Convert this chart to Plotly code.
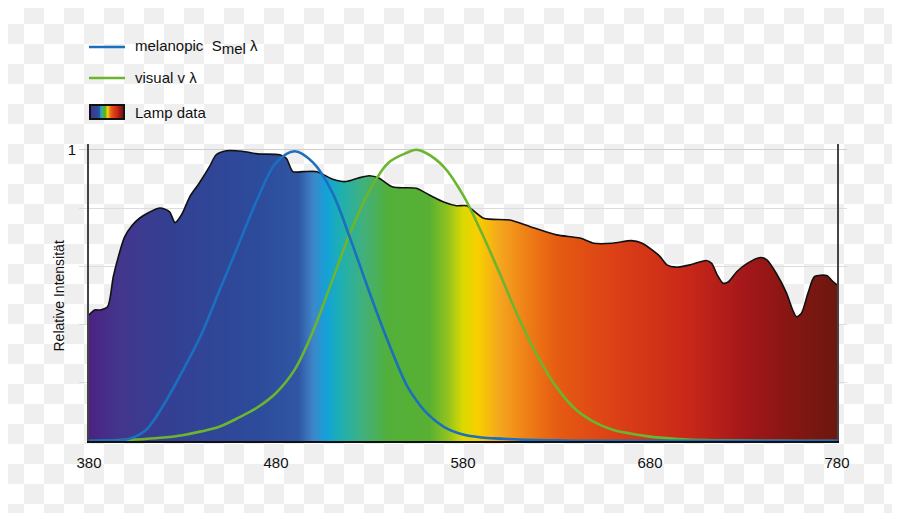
import base64
import plotly.graph_objects as go

# --- data ---
lamp_nm = [380, 383, 386, 390, 393, 396, 399, 403, 407, 412, 418, 423, 426, 429.5,
           434, 439, 444.5, 448, 453.5, 462, 470, 482, 485.5, 489, 494.5, 502,
           510, 517.5, 524, 530, 535, 542.5, 555, 562, 570, 576.5, 582, 591,
           605, 616, 630, 642.5, 650, 660, 670, 675.5, 685, 689, 694, 701.5,
           710, 713, 716, 719, 722, 726.5, 732, 739, 742.5, 747.5, 753, 756.3,
           758.4, 761, 764.5, 768, 774.5, 777, 780]
lamp_val = [0.433, 0.45, 0.45, 0.462, 0.565, 0.64, 0.70, 0.74, 0.765, 0.785, 0.80,
            0.788, 0.75, 0.777, 0.84, 0.886, 0.943, 0.983, 0.997, 0.995, 0.986,
            0.983, 0.971, 0.925, 0.925, 0.925, 0.900, 0.891, 0.903, 0.911, 0.903,
            0.872, 0.868, 0.845, 0.82, 0.808, 0.808, 0.765, 0.759, 0.736, 0.708,
            0.697, 0.679, 0.679, 0.688, 0.68, 0.636, 0.605, 0.597, 0.605, 0.62,
            0.61, 0.57, 0.542, 0.547, 0.582, 0.61, 0.63, 0.622, 0.576, 0.508,
            0.45, 0.427, 0.439, 0.508, 0.565, 0.568, 0.553, 0.536]

curve_nm = [380, 390, 400, 410, 420, 430, 440, 450, 460, 470, 480, 490, 500,
            510, 520, 530, 540, 550, 555, 560, 570, 580, 590, 600, 610, 620,
            630, 640, 650, 660, 670, 680, 690, 700, 710, 720, 740, 760, 780]
melanopic = [0.0, 0.002, 0.005, 0.035, 0.125, 0.24, 0.365, 0.52, 0.675, 0.83,
             0.955, 0.995, 0.955, 0.855, 0.69, 0.51, 0.34, 0.19, 0.14, 0.10,
             0.048, 0.022, 0.012, 0.008, 0.005, 0.003, 0.002, 0.001, 0.001,
             0.001, 0.001, 0.001, 0.001, 0.001, 0.001, 0.001, 0.001, 0.001, 0.001]
visual = [0.0, 0.001, 0.004, 0.007, 0.012, 0.02, 0.033, 0.05, 0.08, 0.115,
          0.165, 0.245, 0.38, 0.55, 0.72, 0.86, 0.955, 0.99, 1.0, 0.99, 0.94,
          0.845, 0.715, 0.57, 0.42, 0.29, 0.185, 0.11, 0.066, 0.039, 0.025,
          0.015, 0.009, 0.005, 0.003, 0.002, 0.001, 0.0, 0.0]

x_ticks = [380, 480, 580, 680, 780]
y_label_ticks = [1.0]
y_grid_ticks = [0.2, 0.4, 0.6, 0.8]

MEL_COLOR = "#1a70bf"
VIS_COLOR = "#6cb52f"

# spectrum colours along the wavelength axis
spec_nm = [380, 395, 420, 470, 492, 500, 507, 515, 527, 540, 562, 572, 580,
           588, 600, 615, 630, 660, 700, 730, 755, 780]
spec_col = ["#4a2284", "#44358c", "#343f92", "#2d4b9b", "#3056a3", "#3f86c8",
            "#12a2d8", "#1fb0b0", "#42b07a", "#52b03a", "#58b033", "#92c31f",
            "#dcd900", "#f8cf00", "#f4a51f", "#ee7d16", "#e65c12", "#dc4116",
            "#c92819", "#a5171a", "#861612", "#6c1810"]
spectrum = [[(n - 380) / 400, c] for n, c in zip(spec_nm, spec_col)]


def svg_uri(svg):
    return "data:image/svg+xml;base64," + base64.b64encode(svg.encode()).decode()


# the page draws the figure 8px in from the top-left corner
OFF = 8

# checkerboard background (transparent-image look), aligned to the page
checker = svg_uri(
    '<svg xmlns="http://www.w3.org/2000/svg" width="900" height="521">'
    f'<defs><pattern id="c" x="{-OFF}" y="{-OFF}" width="40" height="40" '
    'patternUnits="userSpaceOnUse">'
    '<rect width="40" height="40" fill="#ffffff"/>'
    '<rect x="20" width="20" height="20" fill="#efefef"/>'
    '<rect y="20" width="20" height="20" fill="#efefef"/>'
    '</pattern></defs><rect width="900" height="521" fill="url(#c)"/></svg>')

# legend swatch for the lamp spectrum
stops = "".join(f'<stop offset="{p:.3f}" stop-color="{c}"/>' for p, c in spectrum)
swatch = svg_uri(
    '<svg xmlns="http://www.w3.org/2000/svg" width="36" height="16">'
    f'<defs><linearGradient id="g">{stops}</linearGradient></defs>'
    '<rect x="1" y="1" width="34" height="14" fill="url(#g)" '
    'stroke="#111" stroke-width="2"/></svg>')

L, T = 89 - OFF, 144 - OFF
R, B = 900 - (837 - OFF), 521 - (441 - OFF)
W, H = 900 - L - R, 521 - T - B


def px(x):  # page pixel -> paper x
    return (x - 89) / W


def py(y):  # page pixel -> paper y
    return (441 - y) / H


fig = go.Figure()

fig.add_trace(go.Scatter(
    x=lamp_nm, y=lamp_val,
    mode="lines", name="Lamp data",
    line=dict(color="#111111", width=1.6, shape="spline", smoothing=0.7),
    fill="tozeroy",
    fillgradient=dict(type="horizontal", colorscale=spectrum),
))
fig.add_trace(go.Scatter(
    x=curve_nm, y=visual,
    mode="lines", name="visual v λ",
    line=dict(color=VIS_COLOR, width=2.6, shape="spline"),
))
fig.add_trace(go.Scatter(
    x=curve_nm, y=melanopic,
    mode="lines", name="melanopic S mel λ",
    line=dict(color=MEL_COLOR, width=2.6, shape="spline"),
))

# hand-made legend
legend_shapes = [
    dict(type="line", xref="paper", yref="paper", x0=px(89), x1=px(125),
         y0=py(47), y1=py(47), line=dict(color=MEL_COLOR, width=2.6)),
    dict(type="line", xref="paper", yref="paper", x0=px(89), x1=px(125),
         y0=py(78), y1=py(78), line=dict(color=VIS_COLOR, width=2.6)),
]
legend_texts = [
    ("melanopic  S<sub><span style='font-size:15px'>mel</span></sub> λ", 47),
    ("visual v λ", 78),
    ("Lamp data", 112),
]
annotations = [
    dict(text=t, xref="paper", yref="paper", x=px(133), y=py(y),
         xanchor="left", yanchor="middle", showarrow=False,
         font=dict(size=15, color="#111111"))
    for t, y in legend_texts
]
annotations.append(dict(
    text="Relative Intensität", xref="paper", yref="paper",
    x=px(58), y=py(296.5), textangle=-90, showarrow=False,
    xanchor="center", yanchor="middle", font=dict(size=14, color="#111111"),
))

fig.update_layout(
    width=900, height=521,
    margin=dict(l=L, r=R, t=T, b=B, autoexpand=False),
    paper_bgcolor="rgba(0,0,0,0)",
    plot_bgcolor="rgba(0,0,0,0)",
    font=dict(family="Liberation Sans, Arial, sans-serif", size=15, color="#111111"),
    showlegend=False,
    shapes=legend_shapes,
    annotations=annotations,
    images=[
        dict(source=checker, xref="paper", yref="paper",
             x=px(0) - OFF / W, y=py(0) + OFF / H, sizex=900 / W, sizey=521 / H,
             sizing="stretch", layer="below"),
        dict(source=swatch, xref="paper", yref="paper",
             x=px(89), y=py(104), sizex=36 / W, sizey=16 / H,
             sizing="stretch", layer="above"),
    ],
)

fig.update_xaxes(
    range=[380, 780], tickvals=x_ticks,
    showgrid=False, zeroline=False,
    showline=True, linecolor="#111111", linewidth=2,
    ticks="outside", ticklen=7, tickcolor="rgba(0,0,0,0)",
)
fig.update_yaxes(
    range=[0, 1.02],
    tickvals=y_label_ticks,
    showgrid=True, gridcolor="#cfcfcf", gridwidth=1,
    zeroline=False,
    showline=True, linecolor="#444444", linewidth=2, mirror="ticks",
    ticks="outside", ticklen=8, tickcolor="#cfcfcf",
    minor=dict(tickvals=y_grid_ticks, showgrid=True, gridcolor="#dcdcdc",
               ticks="outside", ticklen=8, tickcolor="#dcdcdc"),
)

fig.write_html("out.html")
